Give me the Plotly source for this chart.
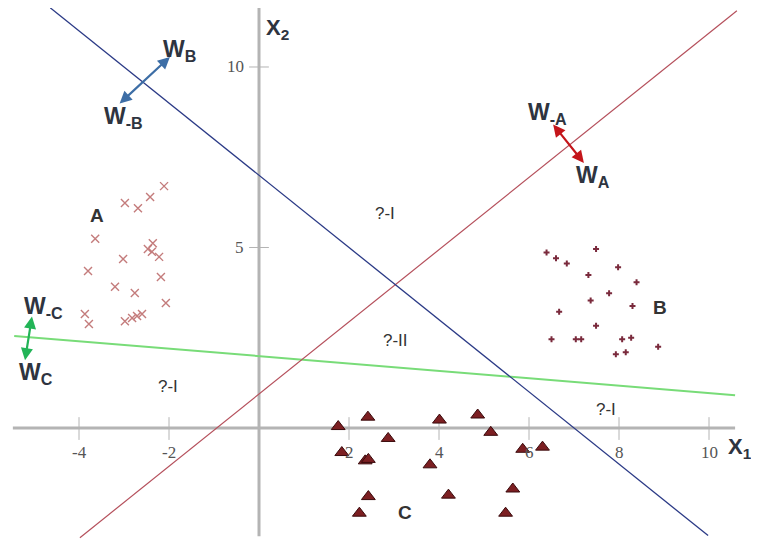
import plotly.graph_objects as go

# ---------------- data ----------------
a_x = [-2.11, -2.42, -2.98, -2.69, -3.64, -2.36, -2.47, -2.38, -2.22, -3.02, -3.80,
       -2.18, -3.20, -2.76, -2.07, -3.87, -3.78, -2.98, -2.82, -2.71, -2.60]
a_y = [6.70, 6.40, 6.23, 6.09, 5.24, 5.12, 4.96, 4.88, 4.74, 4.68, 4.35,
       4.18, 3.91, 3.74, 3.46, 3.16, 2.88, 2.96, 3.05, 3.10, 3.16]

b_x = [6.39, 6.60, 6.84, 7.49, 7.98, 7.32, 8.39, 7.78, 7.37, 6.67, 8.30,
       7.49, 6.50, 7.04, 7.16, 8.07, 8.27, 7.93, 8.15, 8.87]
b_y = [4.86, 4.70, 4.56, 4.96, 4.45, 4.24, 4.04, 3.73, 3.53, 3.22, 3.38,
       2.83, 2.46, 2.46, 2.46, 2.46, 2.50, 2.04, 2.10, 2.25]

c_x = [1.76, 2.42, 2.87, 4.01, 4.86, 5.15, 1.84, 2.36, 2.43, 3.80, 5.86,
       6.30, 2.43, 2.23, 4.21, 5.64, 5.48]
c_y = [0.04, 0.30, -0.29, 0.22, 0.36, -0.12, -0.68, -0.91, -0.87, -1.02, -0.59,
       -0.53, -1.90, -2.36, -1.86, -1.69, -2.36]

# decision boundaries: y = slope * x + intercept, drawn between x_from and x_to
line_a = dict(slope=1.0, intercept=0.94, x_from=-3.98, x_to=10.62)
line_b = dict(slope=-1.0, intercept=7.0, x_from=-4.64, x_to=9.98)
line_c = dict(slope=-0.1024, intercept=1.993, x_from=-5.44, x_to=10.58)

x_ticks = [-4, -2, 2, 4, 6, 8, 10]
x_tick_labels = ["-4", "-2", "2", "4", "6", "8", "10"]
y_ticks = [5, 10]
y_tick_labels = ["5", "10"]

# ---------------- figure ----------------
fig = go.Figure()

def add_line(spec, color, width):
    xs = [spec["x_from"], spec["x_to"]]
    ys = [spec["slope"] * v + spec["intercept"] for v in xs]
    fig.add_trace(go.Scatter(x=xs, y=ys, mode="lines",
                             line=dict(color=color, width=width),
                             hoverinfo="skip", showlegend=False))

add_line(line_c, "#78dc78", 2)
add_line(line_a, "#b5505c", 1.2)
add_line(line_b, "#2b3a86", 1.3)

fig.add_trace(go.Scatter(x=a_x, y=a_y, mode="markers", showlegend=False,
                         marker=dict(symbol="x-thin", size=8,
                                     line=dict(color="#c47c7c", width=1.4))))
fig.add_trace(go.Scatter(x=b_x, y=b_y, mode="markers", showlegend=False,
                         marker=dict(symbol="cross", size=5, color="#7a2a3c",
                                     line=dict(width=0))))
fig.add_trace(go.Scatter(x=c_x, y=c_y, mode="markers", showlegend=False,
                         marker=dict(symbol="triangle-up", size=12, color="#7c1f22",
                                     line=dict(color="#3a0a0c", width=1))))

# axes drawn as plain lines through the origin
axis_col = "#b4b4b4"
shapes = [
    dict(type="line", x0=-5.47, x1=10.58, y0=0, y1=0, line=dict(color=axis_col, width=3), layer="below"),
    dict(type="line", x0=0, x1=0, y0=-3.0, y1=11.66, line=dict(color=axis_col, width=3), layer="below"),
]
for t in x_ticks:
    shapes.append(dict(type="line", x0=t, x1=t, y0=-0.33, y1=0.3,
                       line=dict(color=axis_col, width=1), layer="below"))
for t in y_ticks:
    shapes.append(dict(type="line", x0=-0.22, x1=0.22, y0=t, y1=t,
                       line=dict(color=axis_col, width=1), layer="below"))

annotations = []
tick_font = dict(family="Liberation Serif", size=17, color="#555555")
for t, lab in zip(x_ticks, x_tick_labels):
    annotations.append(dict(x=t, y=-0.69, text=lab, showarrow=False, font=tick_font,
                            xanchor="center", yanchor="middle"))
for t, lab in zip(y_ticks, y_tick_labels):
    annotations.append(dict(x=-0.3, y=t, text=lab, showarrow=False, font=tick_font,
                            xanchor="right", yanchor="middle"))

lab_font = dict(family="Liberation Sans", size=22, color="#2e3440")
annotations.append(dict(x=0.42, y=11.05, text="<b>X<sub>2</sub></b>", showarrow=False,
                        font=lab_font, xanchor="center", yanchor="middle"))
annotations.append(dict(x=10.68, y=-0.55, text="<b>X<sub>1</sub></b>", showarrow=False,
                        font=lab_font, xanchor="center", yanchor="middle"))

# weight vectors (double headed arrows)
arrows = [
    ((-3.13, 8.95), (-1.98, 10.28), "#3d6ea6"),
    ((6.51, 8.45), (7.22, 7.34), "#c4151a"),
    ((-5.04, 3.13), (-5.20, 1.88), "#22b457"),
]
for (x0, y0), (x1, y1), col in arrows:
    annotations.append(dict(x=x1, y=y1, ax=x0, ay=y0, xref="x", yref="y",
                            axref="x", ayref="y", text="", showarrow=True,
                            arrowhead=2, arrowside="end+start", arrowsize=1.1,
                            arrowwidth=2.2, arrowcolor=col, standoff=0, startstandoff=0))

w_font = dict(family="Liberation Sans", size=23, color="#2e3440")
w_labels = [
    (-1.76, 10.47, "<b>W<sub>B</sub></b>"),
    (-3.02, 8.59, "<b>W<sub>-B</sub></b>"),
    (6.42, 8.70, "<b>W<sub>-A</sub></b>"),
    (7.42, 6.98, "<b>W<sub>A</sub></b>"),
    (-4.80, 3.35, "<b>W<sub>-C</sub></b>"),
    (-4.96, 1.50, "<b>W<sub>C</sub></b>"),
]
for x, y, t in w_labels:
    annotations.append(dict(x=x, y=y, text=t, showarrow=False, font=w_font,
                            xanchor="center", yanchor="middle"))

cls_font = dict(family="Liberation Sans", size=19, color="#333333")
for x, y, t in [(-3.6, 5.9, "<b>A</b>"), (8.91, 3.35, "<b>B</b>"), (3.24, -2.33, "<b>C</b>")]:
    annotations.append(dict(x=x, y=y, text=t, showarrow=False, font=cls_font,
                            xanchor="center", yanchor="middle"))

q_font = dict(family="Liberation Sans", size=17, color="#333333")
for x, y, t in [(2.8, 5.93, "?-I"), (3.04, 2.41, "?-II"), (-2.02, 1.16, "?-I"), (7.71, 0.5, "?-I")]:
    annotations.append(dict(x=x, y=y, text=t, showarrow=False, font=q_font,
                            xanchor="center", yanchor="middle"))

# the page body adds an 8px offset, so the visible window starts 8px into the drawing
fig.update_layout(
    width=759, height=544,
    margin=dict(l=0, r=0, t=0, b=0),
    paper_bgcolor="white", plot_bgcolor="white",
    xaxis=dict(range=[-5.578, 11.289], visible=False, fixedrange=True),
    yaxis=dict(range=[-3.435, 11.634], visible=False, fixedrange=True),
    shapes=shapes, annotations=annotations, showlegend=False,
)

fig.write_html("out.html")
